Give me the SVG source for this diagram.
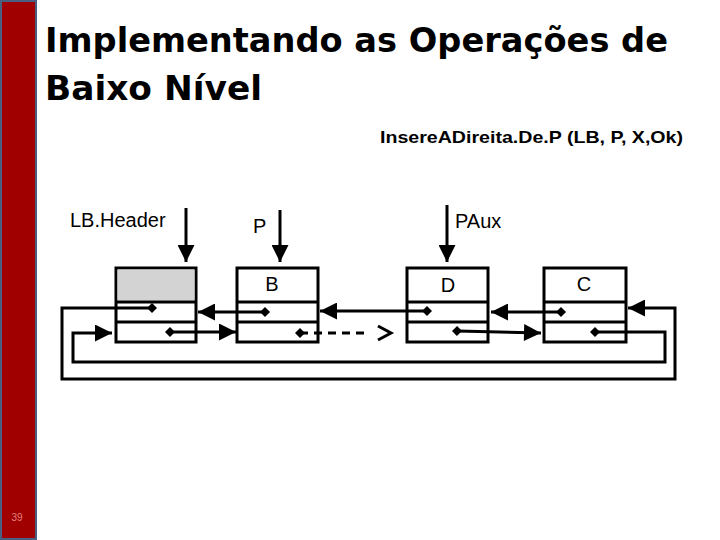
<svg xmlns="http://www.w3.org/2000/svg" width="720" height="540" viewBox="0 0 720 540">
<defs>
<marker id="ah" viewBox="0 0 10 10" refX="10" refY="5" markerWidth="22" markerHeight="17" markerUnits="userSpaceOnUse" orient="auto"><path d="M0,0 L10,5 L0,10 z" fill="#000"/></marker>
<marker id="dot" viewBox="0 0 10 10" refX="5" refY="5" markerWidth="10" markerHeight="10" markerUnits="userSpaceOnUse" orient="auto"><path d="M0,5 L5,0 L10,5 L5,10 z" fill="#000"/></marker>
</defs>
<style>
.box{fill:#fff;stroke:#000;stroke-width:3}
.div{stroke:#000;stroke-width:3}
.lbl{font-family:"Liberation Sans",Arial,sans-serif;font-size:20px;fill:#000}
.c{fill:none;stroke:#000;stroke-width:3}
</style>
<rect x="0" y="0" width="720" height="540" fill="#fff"/>
<rect x="1" y="1" width="35" height="538" fill="#a00000" stroke="#4a6080" stroke-width="2"/>
<text x="17" y="521" font-family="Liberation Sans,sans-serif" font-size="10" fill="#e08080" text-anchor="middle">39</text>
<text x="45" y="52" font-family="'DejaVu Sans',sans-serif" font-weight="bold" font-size="34" textLength="623" lengthAdjust="spacingAndGlyphs">Implementando as Operações de</text>
<text x="45" y="100" font-family="'DejaVu Sans',sans-serif" font-weight="bold" font-size="34" textLength="217" lengthAdjust="spacingAndGlyphs">Baixo Nível</text>
<text x="380" y="143" font-family="'Liberation Sans',Arial,sans-serif" font-weight="bold" font-size="17" textLength="303" lengthAdjust="spacingAndGlyphs">InsereADireita.De.P (LB, P, X,Ok)</text>
<text class="lbl" x="70" y="227">LB.Header</text>
<text class="lbl" x="253" y="233">P</text>
<text class="lbl" x="455" y="228">PAux</text>
<g id="header"><rect class="box" x="116" y="268" width="80" height="74"/><rect x="117.5" y="269.5" width="77" height="31" fill="#d3d3d3"/><line class="div" x1="116" y1="302" x2="196" y2="302"/><line class="div" x1="116" y1="322" x2="196" y2="322"/></g>
<g id="nodeB"><rect class="box" x="237" y="268" width="81" height="74"/><line class="div" x1="237" y1="302" x2="318" y2="302"/><line class="div" x1="237" y1="322" x2="318" y2="322"/><text class="lbl" x="272" y="291" text-anchor="middle">B</text></g>
<g id="nodeD"><rect class="box" x="407" y="268" width="81" height="74"/><line class="div" x1="407" y1="302" x2="488" y2="302"/><line class="div" x1="407" y1="322" x2="488" y2="322"/><text class="lbl" x="448" y="292" text-anchor="middle">D</text></g>
<g id="nodeC"><rect class="box" x="544" y="268" width="82" height="74"/><line class="div" x1="544" y1="302" x2="626" y2="302"/><line class="div" x1="544" y1="322" x2="626" y2="322"/><text class="lbl" x="584" y="291" text-anchor="middle">C</text></g>
<g id="connectors">
<line class="c" x1="186" y1="208" x2="186" y2="262" marker-end="url(#ah)"/>
<line class="c" x1="280" y1="210" x2="280" y2="262" marker-end="url(#ah)"/>
<line class="c" x1="447" y1="205" x2="447" y2="262" marker-end="url(#ah)"/>
<polyline class="c" points="152,308 62,308 62,379 675,379 675,308 628,308" marker-start="url(#dot)" marker-end="url(#ah)"/>
<line class="c" x1="170" y1="332" x2="236" y2="332" marker-start="url(#dot)" marker-end="url(#ah)"/>
<polyline class="c" points="595,332 665,332 665,362 73,362 73,333 112,333" marker-start="url(#dot)" marker-end="url(#ah)"/>
<line class="c" x1="265" y1="312" x2="198" y2="312" marker-start="url(#dot)" marker-end="url(#ah)"/>
<line class="c" x1="427" y1="311" x2="320" y2="311" marker-start="url(#dot)" marker-end="url(#ah)"/>
<line class="c" x1="300" y1="333" x2="370" y2="333" stroke-dasharray="8,6" marker-start="url(#dot)"/>
<polyline class="c" points="378,326 391,333 378,340"/>
<line class="c" x1="457" y1="331" x2="541" y2="333" marker-start="url(#dot)" marker-end="url(#ah)"/>
<line class="c" x1="561" y1="312" x2="491" y2="312" marker-start="url(#dot)" marker-end="url(#ah)"/>
</g>
</svg>
